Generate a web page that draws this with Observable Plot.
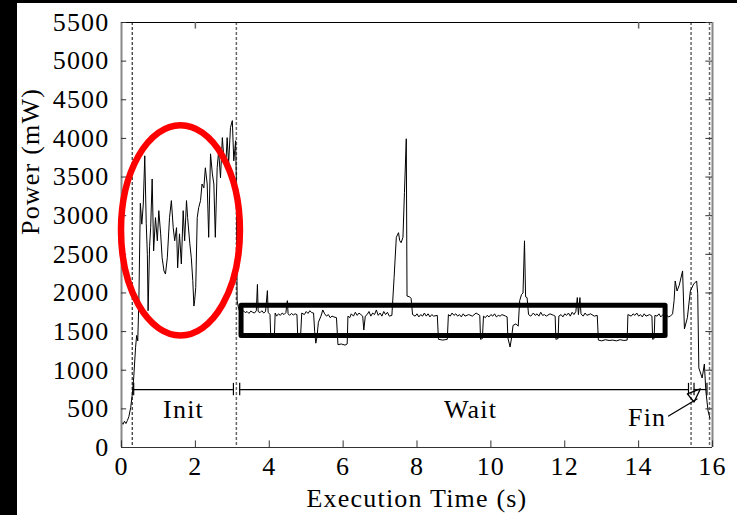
<!DOCTYPE html>
<html><head><meta charset="utf-8">
<script src="https://cdn.jsdelivr.net/npm/d3@7"></script>
<script src="https://cdn.jsdelivr.net/npm/@observablehq/plot@0.6"></script>
<style>
html,body{margin:0;padding:0;background:#000;width:737px;height:515px;overflow:hidden}
#chart{position:absolute;left:17px;top:3px;width:720px;height:512px;background:#fff}
</style></head><body><div id="chart"></div>
<script>
const xTicks = [0, 2, 4, 6, 8, 10, 12, 14, 16];
const yTicks = [0, 500, 1000, 1500, 2000, 2500, 3000, 3500, 4000, 4500, 5000, 5500];
const topTicks = [2, 14];

// Init phase trace
const tInit = [0.00,0.04,0.08,0.12,0.16,0.20,0.25,0.29,0.33,0.38,0.41,0.44,0.47,0.51,0.55,0.59,0.63,0.67,0.70,0.72,0.76,0.79,0.83,0.87,0.92,0.97,1.01,1.06,1.10,1.15,1.19,1.24,1.30,1.35,1.40,1.44,1.49,1.52,1.57,1.62,1.67,1.71,1.76,1.79,1.85,1.89,1.93,1.96,1.98,2.01,2.05,2.09,2.14,2.18,2.23,2.27,2.32,2.36,2.41,2.46,2.50,2.54,2.59,2.63,2.68,2.73,2.77,2.82,2.86,2.90,2.95,3.00,3.04,3.09,3.11,3.13];
const pInit = [330,300,340,310,350,400,520,680,900,1290,1450,1380,1900,3160,2890,3150,3775,2900,2500,1770,2600,2850,3475,2545,2975,2675,3065,2765,2455,2285,2245,2455,2975,3195,2845,2675,2845,2325,2765,2375,3065,2675,3195,2975,2635,2455,2160,1830,1900,2070,2975,3105,3195,3410,3360,3620,3410,2720,3800,3540,3410,2720,3620,3840,3490,4010,3750,3620,4010,3670,4140,4230,3710,3970,3410,1900];

// Wait phase trace
const tWait = [3.17,3.20,3.25,3.30,3.35,3.40,3.45,3.50,3.55,3.60,3.65,3.68,3.70,3.75,3.80,3.85,3.90,3.95,3.97,4.02,4.04,4.10,4.14,4.16,4.20,4.25,4.30,4.35,4.40,4.45,4.49,4.51,4.55,4.60,4.65,4.70,4.75,4.77,4.85,4.88,4.95,5.00,5.05,5.10,5.15,5.20,5.23,5.26,5.29,5.33,5.40,5.45,5.50,5.55,5.60,5.65,5.70,5.75,5.82,5.86,5.95,6.05,6.11,6.13,6.18,6.22,6.28,6.33,6.38,6.43,6.48,6.53,6.56,6.60,6.65,6.70,6.75,6.80,6.85,6.90,6.95,7.00,7.05,7.10,7.15,7.20,7.25,7.32,7.38,7.44,7.50,7.53,7.57,7.62,7.66,7.71,7.73,7.80,7.84,7.88,7.95,8.00,8.05,8.10,8.15,8.20,8.25,8.30,8.35,8.40,8.45,8.55,8.58,8.70,8.82,8.85,8.90,8.95,9.00,9.05,9.10,9.15,9.20,9.25,9.30,9.40,9.50,9.60,9.70,9.72,9.77,9.80,9.85,9.90,9.95,10.00,10.05,10.10,10.15,10.20,10.25,10.30,10.40,10.44,10.46,10.52,10.56,10.60,10.68,10.74,10.78,10.83,10.87,10.91,10.94,10.98,11.02,11.08,11.15,11.20,11.25,11.30,11.35,11.40,11.45,11.50,11.60,11.70,11.74,11.76,11.82,11.84,11.90,11.95,12.00,12.05,12.10,12.15,12.20,12.25,12.30,12.34,12.37,12.41,12.44,12.50,12.55,12.60,12.70,12.80,12.88,12.91,13.00,13.10,13.20,13.30,13.40,13.50,13.60,13.69,13.71,13.80,13.85,13.90,13.95,14.00,14.05,14.10,14.15,14.20,14.30,14.36,14.38,14.42,14.44,14.50,14.55,14.60,14.66,14.70,14.75,14.80,14.86];
const pWait = [1800,1760,1740,1770,1745,1760,1735,1765,1750,1740,1770,2110,1760,1745,1770,1740,1760,2030,1750,1720,1450,1460,1445,1740,1700,1730,1710,1740,1720,1745,1900,1730,1710,1735,1715,1730,1720,1450,1460,1740,1720,1760,1735,1770,1745,1740,1500,1350,1420,1620,1700,1780,1730,1700,1720,1680,1700,1690,1680,1330,1340,1325,1340,1700,1680,1730,1700,1750,1710,1740,1720,1700,1520,1700,1720,1760,1700,1740,1720,1780,1710,1740,1700,1760,1720,1750,1700,1710,2200,2720,2780,2680,2650,2720,3300,3995,1960,1950,1930,1720,1700,1730,1690,1720,1700,1740,1700,1730,1690,1720,1700,1710,1400,1390,1400,1720,1700,1740,1710,1730,1700,1720,1690,1730,1700,1720,1700,1740,1710,1400,1410,1700,1680,1710,1690,1720,1700,1730,1690,1710,1700,1720,1700,1690,1420,1300,1420,1580,1600,1570,1900,1980,2000,2675,1950,1940,1720,1700,1740,1710,1730,1700,1750,1710,1720,1700,1730,1710,1700,1400,1410,1700,1720,1690,1730,1710,1740,1700,1750,1720,1760,1940,1720,1940,1730,1700,1740,1710,1730,1700,1710,1390,1380,1395,1385,1390,1380,1395,1385,1390,1720,1700,1730,1710,1740,1700,1720,1690,1730,1700,1720,1700,1400,1410,1710,1700,1730,1690,1720,1680,1720,1690,1700];

// Fin phase trace
const tFin = [14.92,14.96,14.99,15.04,15.10,15.19,15.24,15.32,15.40,15.49,15.57,15.60,15.63,15.72,15.78,15.82,15.88,15.93];
const pFin = [1730,1900,2155,2025,2100,2285,1535,1680,2025,2115,2155,1990,1030,900,1080,730,473,380];

// phase markers
const dashedBlack = [0.29];
const dashedGray = [3.11, 15.42, 15.92];
const phaseNames = ["Init", "Wait", "Fin"];
const phaseStart = [0.33, 3.2, 15.5];
const phaseEnd = [3.03, 15.35, 15.85];
const phaseLevel = [750, 750, 750];
const labelT = [1.68, 9.45, 14.23];
const labelP = [486, 486, 382];
const finArrowT = [14.81, 15.58];
const finArrowP = [408, 628];
const finHeadT = [15.32, 15.5, 15.67, 15.32];
const finHeadP = [693, 589, 758, 693];

// highlight shapes
const boxT = [3.25, 14.73];
const boxP = [1444, 1833];
const ellipseCenter = [1.61, 2804];
const ellipseRadius = [1.61, 1360];

const trace = [];
[[tInit, pInit], [tWait, pWait], [tFin, pFin]].forEach(([ts, ps]) => ts.forEach((t, i) => trace.push({t, p: ps[i]})));

const intervals = phaseNames.map((n, i) => ({n, x1: phaseStart[i], x2: phaseEnd[i], y: phaseLevel[i]}));
const bars = intervals.flatMap(d => [d.x1, d.x2]);

const W = 720, H = 512;
const chart = Plot.plot({
  width: W, height: H,
  marginLeft: 104, marginRight: 25, marginTop: 19, marginBottom: 68,
  style: {fontFamily: "Liberation Serif, serif", fontSize: "26px", background: "#fff", color: "#000", letterSpacing: "1.2px"},
  x: {domain: [0, 16], ticks: xTicks},
  y: {domain: [0, 5500], ticks: yTicks},
  marks: [
    Plot.ruleX(dashedBlack, {stroke: "#000", strokeWidth: 1, strokeDasharray: "3,2"}),
    Plot.ruleX(dashedGray, {stroke: "#666", strokeWidth: 1.5, strokeDasharray: "3,2"}),
    Plot.line(trace, {x: "t", y: "p", stroke: "#000", strokeWidth: 1}),
    Plot.ruleY(intervals, {x1: "x1", x2: "x2", y: "y", stroke: "#000", strokeWidth: 1.2}),
    Plot.ruleX(bars, {x: d => d, y1: 670, y2: 830, stroke: "#000", strokeWidth: 1.2}),
    Plot.text(phaseNames, {x: labelT, y: labelP, text: d => d, fontSize: 26}),
    Plot.line(finArrowT.map((t, i) => ({t, p: finArrowP[i]})), {x: "t", y: "p", stroke: "#000", strokeWidth: 1.3}),
    Plot.line(finHeadT.map((t, i) => ({t, p: finHeadP[i]})), {x: "t", y: "p", stroke: "#000", strokeWidth: 1.3}),
    Plot.rect([{}], {x1: boxT[0], x2: boxT[1], y1: boxP[0], y2: boxP[1], stroke: "#000", strokeWidth: 5, fill: "none", strokeLinejoin: "round"}),
    // frame
    Plot.ruleX([0], {stroke: "#888", strokeWidth: 2}),
    Plot.ruleX([16], {stroke: "#888", strokeWidth: 2}),
    Plot.ruleY([5500], {stroke: "#000", strokeWidth: 1}),
    Plot.ruleY([0], {stroke: "#333", strokeWidth: 1}),
    // inward ticks
    Plot.ruleY(yTicks, {y: d => d, x1: 0, x2: 0.14, stroke: "#333", strokeWidth: 1}),
    Plot.ruleY(yTicks, {y: d => d, x1: 15.82, x2: 16, stroke: "#333", strokeWidth: 1}),
    Plot.ruleX(xTicks, {x: d => d, y1: 0, y2: 85, stroke: "#333", strokeWidth: 1}),
    Plot.ruleX(topTicks, {x: d => d, y1: 5415, y2: 5500, stroke: "#666", strokeWidth: 1.5}),
    Plot.axisY({ticks: yTicks, tickSize: 0, tickPadding: 12, label: null, fontSize: 26, tickFormat: d => String(d)}),
    Plot.axisX({ticks: xTicks, tickSize: 0, tickPadding: 9, label: null, fontSize: 26, tickFormat: d => String(d)}),
    Plot.text(["Power (mW)"], {frameAnchor: "left", dx: -91, rotate: -90, fontSize: 26, text: d => d, letterSpacing: "1.6px"}),
    Plot.text(["Execution Time (s)"], {frameAnchor: "bottom", dy: 59, fontSize: 26, text: d => d})
  ]
});
document.getElementById("chart").appendChild(chart);

const sx = chart.scale("x"), sy = chart.scale("y");
d3.select(chart).append("ellipse")
  .attr("cx", sx.apply(ellipseCenter[0]))
  .attr("cy", sy.apply(ellipseCenter[1]))
  .attr("rx", sx.apply(ellipseCenter[0] + ellipseRadius[0]) - sx.apply(ellipseCenter[0]))
  .attr("ry", sy.apply(ellipseCenter[1]) - sy.apply(ellipseCenter[1] + ellipseRadius[1]))
  .attr("fill", "none").attr("stroke", "#ff0000").attr("stroke-width", 6.5);
</script></body></html>
